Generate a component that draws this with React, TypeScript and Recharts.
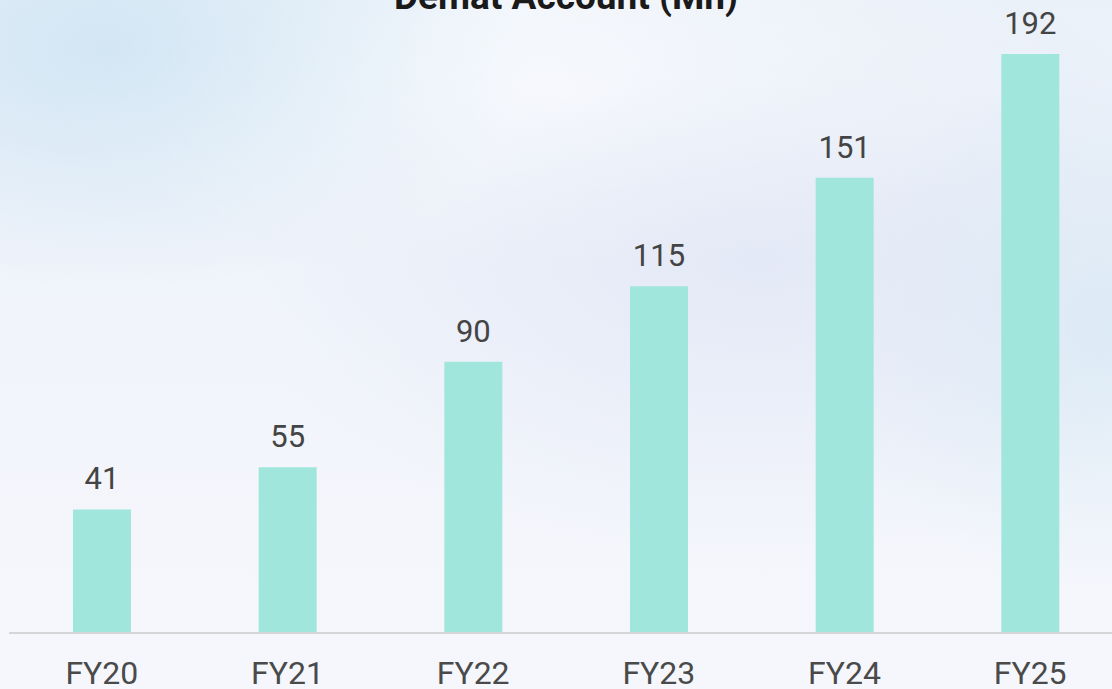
import React from "react";
import { BarChart, Bar, XAxis, YAxis, LabelList } from "recharts";

const years = ["FY20", "FY21", "FY22", "FY23", "FY24", "FY25"];
const accounts = [41, 55, 90, 115, 151, 192];

const chartData = years.map((year, i) => ({ year, accounts: accounts[i] }));

const FONT = "Roboto, 'Noto Sans', sans-serif";

// title sits partly above the top edge, as in the source image
const Title = () => (
    <text
        x={566}
        y={9}
        textAnchor="middle"
        fontFamily={FONT}
        fontWeight={700}
        fontSize={37}
        fill="#1a1a1a"
    >
        Demat Account (Mn)
    </text>
);

export default function App() {
    return (
        <div
            style={{
                position: "fixed",
                left: 0,
                top: 0,
                width: 1112,
                height: 689,
                overflow: "hidden",
                background:
                    "radial-gradient(ellipse 420px 240px at 110px 50px, rgba(200,225,242,0.7), rgba(200,225,242,0) 100%)," +
                    "radial-gradient(ellipse 520px 300px at 760px 260px, rgba(215,222,242,0.5), rgba(215,222,242,0) 100%)," +
                    "radial-gradient(ellipse 300px 260px at 1112px 330px, rgba(205,230,242,0.55), rgba(205,230,242,0) 100%)," +
                    "radial-gradient(ellipse 520px 180px at 560px 90px, rgba(255,255,255,0.85), rgba(255,255,255,0) 100%)," +
                    "linear-gradient(180deg, #eaf1f9 0%, #f1f4fb 45%, #f6f7fc 100%)",
            }}
        >
            <BarChart
                width={1130}
                height={689}
                data={chartData}
                margin={{ top: 30, right: 7, bottom: 26, left: 9 }}
            >
                <Title />
                <XAxis
                    dataKey="year"
                    axisLine={{ stroke: "#d6d6d9", strokeWidth: 2 }}
                    tickLine={false}
                    tickSize={0}
                    tickMargin={28}
                    tick={{ fill: "#4a4a4a", fontSize: 32, fontFamily: FONT }}
                    interval={0}
                />
                <YAxis hide domain={[0, 200]} />
                <Bar
                    dataKey="accounts"
                    fill="#a0e6dc"
                    barSize={58}
                    isAnimationActive={false}
                >
                    <LabelList
                        dataKey="accounts"
                        position="top"
                        offset={20}
                        fill="#444444"
                        fontSize={31}
                        fontFamily={FONT}
                    />
                </Bar>
            </BarChart>
        </div>
    );
}
